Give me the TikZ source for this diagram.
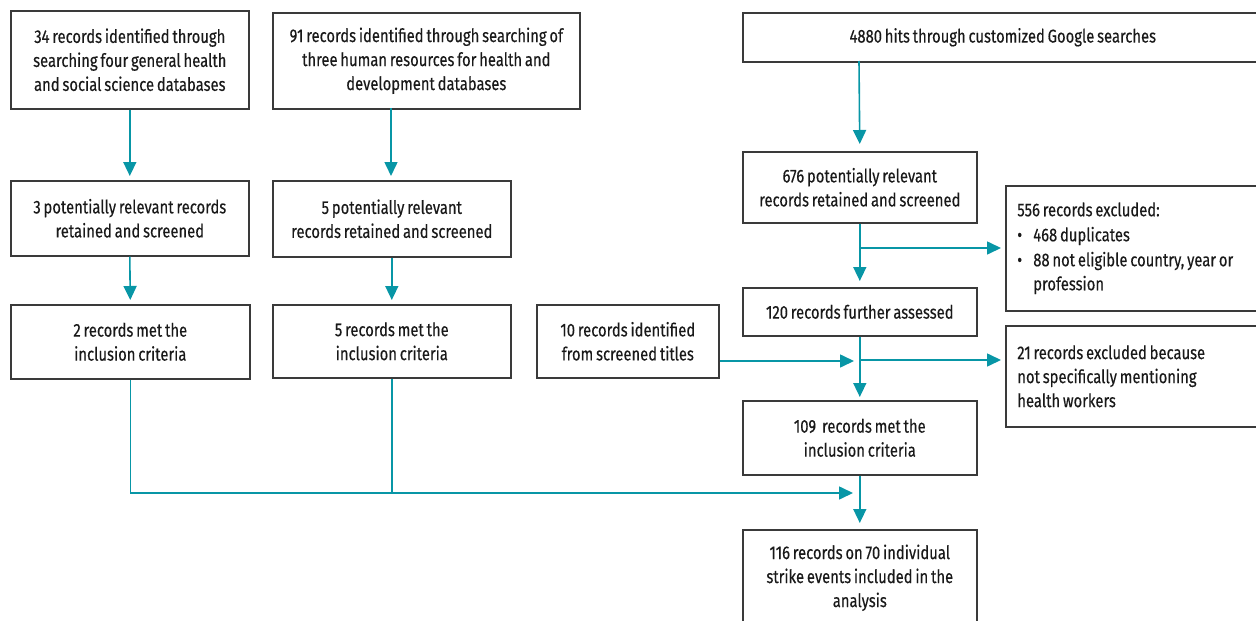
\documentclass[tikz,border=0pt]{standalone}
\usepackage{fontspec}
\setmainfont{Fira Sans}[FakeStretch=0.8, FakeBold=0.35, WordSpace=0.72]
\usetikzlibrary{arrows.meta}
\definecolor{teal1}{HTML}{0896A6}
\definecolor{boxline}{HTML}{3A3A3A}
\tikzset{
  box/.style={draw=boxline, line width=1.6pt, anchor=north west, inner sep=0pt, align=center, font=\fontsize{18.5}{24}\selectfont, text=black!90},
  lbox/.style={box, align=flush left},
  arr/.style={draw=teal1, line width=1.6pt, -{Triangle[length=14pt,width=13pt]}},
  ln/.style={draw=teal1, line width=1.6pt},
}
\begin{document}
\begin{tikzpicture}[x=1pt,y=-1pt]
\clip (0,0) rectangle (1256,621);
% row 1
\node[box, minimum width=238, minimum height=98] (A1) at (10,10) {34 records identified through\\searching four general health\\and social science databases};
\node[box, minimum width=307, minimum height=96] (B1) at (272,12) {91 records identified through searching of\\three human resources for health and\\development databases};
\node[box, minimum width=520, minimum height=49] (C1) at (742,12) {4880 hits through customized Google searches};
% row 2
\node[box, minimum width=238, minimum height=75] (A2) at (10,180) {3 potentially relevant records\\retained and screened};
\node[box, minimum width=238, minimum height=76] (B2) at (272,180) {5 potentially relevant\\records retained and screened};
\node[box, minimum width=234, minimum height=71] (C2) at (742,151) {676 potentially relevant\\records retained and screened};
\node[lbox, minimum width=260, minimum height=125, text width=245] (E1) at (1005,185) {\hspace*{4pt}556 records excluded:\\[1pt]
  \hspace*{4pt}\makebox[16pt][l]{\textbullet}468 duplicates\\[1pt]
  \hspace*{4pt}\makebox[16pt][l]{\textbullet}88 not eligible country, year or\\
  \hspace*{20pt}profession};
% row 3
\node[box, minimum width=234, minimum height=48] (C3) at (742,287) {120 records further assessed};
\node[box, minimum width=239, minimum height=74] (A3) at (10,304) {2 records met the\\inclusion criteria};
\node[box, minimum width=238, minimum height=73] (B3) at (272,304) {5 records met the\\inclusion criteria};
\node[box, minimum width=182, minimum height=73] (T) at (536,304) {10 records identified\\from screened titles};
\node[lbox, minimum width=260, minimum height=101, text width=245] (E2) at (1005,325) {\hspace*{4pt}21 records excluded because\\\hspace*{4pt}not specifically mentioning\\\hspace*{4pt}health workers};
% row 4
\node[box, minimum width=234, minimum height=74] (C4) at (742,400) {109 \,records met the\\inclusion criteria};
\node[box, minimum width=234, minimum height=96] (C5) at (742,529) {116 records on 70 individual\\strike events included in the\\analysis};
% junctions
\coordinate (j1) at (859,248);
\coordinate (j2) at (859,360);
\coordinate (j3) at (859,493);
% arrows
\draw[arr, shorten >=4pt] (A1.south) -- (A2.north);
\draw[arr, shorten >=4pt] (391,108) -- (391,180);
\draw[arr, shorten >=4pt] (A2.south) -- (A3.north);
\draw[arr, shorten >=4pt] (B2.south) -- (B3.north);
\draw[arr, shorten >=7pt] (859,61) -- (C2.north);
\draw[arr, shorten >=6pt] (C2.south) -- (C3.north);
\draw[arr, shorten >=4pt] (j1) -- (E1.west |- j1);
\draw[arr, shorten >=3pt] (C3.south) -- (C4.north);
\draw[arr, shorten >=4pt] (j2) -- (E2.west |- j2);
\draw[arr, shorten >=5pt] (T.east |- 0,361) -- (859,361);
\draw[arr, shorten >=6pt] (C4.south) -- (C5.north);
\draw[ln] (A3.south) -- (A3.south |- j3) -- (B3.south |- j3);
\draw[ln] (B3.south) -- (B3.south |- j3);
\draw[arr, shorten >=6pt] (B3.south |- j3) -- (j3);
\end{tikzpicture}
\end{document}
